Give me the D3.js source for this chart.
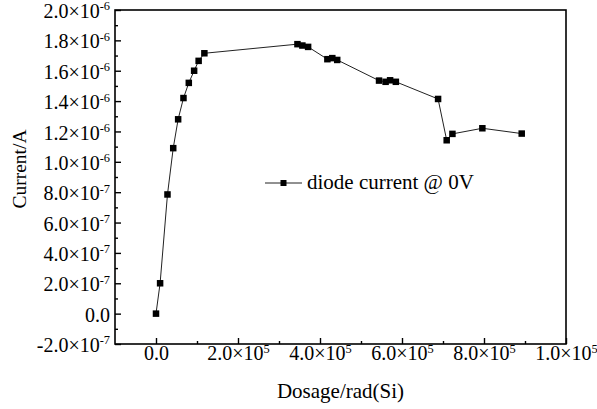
<!DOCTYPE html>
<html>
<head>
<meta charset="utf-8">
<script src="https://cdn.jsdelivr.net/npm/d3@7"></script>
<style>
    body { margin: 0; background: #fff; }
    svg { display: block; }
    svg text { font-family: "Liberation Serif", "Times New Roman", serif; }
</style>
</head>
<body>
<div id="container"></div>
<script>
// values
const dosage = [0, 1.0e4, 2.8e4, 4.2e4, 5.4e4, 6.7e4, 8.0e4, 9.3e4, 1.04e5, 1.18e5,
    3.45e5, 3.57e5, 3.71e5, 4.18e5, 4.30e5, 4.42e5,
    5.44e5, 5.60e5, 5.71e5, 5.85e5, 6.88e5, 7.09e5, 7.23e5, 7.96e5, 8.92e5]
const current = [0, 2.0e-7, 7.85e-7, 1.09e-6, 1.28e-6, 1.42e-6, 1.52e-6, 1.60e-6, 1.665e-6, 1.715e-6,
    1.775e-6, 1.766e-6, 1.757e-6, 1.676e-6, 1.683e-6, 1.671e-6,
    1.535e-6, 1.527e-6, 1.537e-6, 1.527e-6, 1.414e-6, 1.142e-6, 1.184e-6, 1.221e-6, 1.186e-6]

const seriesName = "diode current @ 0V"

const xTicks = [0, 2e5, 4e5, 6e5, 8e5, 1e6]
const xTickMantissa = ["0.0", "2.0", "4.0", "6.0", "8.0", "1.0"]
const xTickExponent = ["", "5", "5", "5", "5", "5"]
const xMinor = [1e5, 3e5, 5e5, 7e5, 9e5]

const yTicks = [-2e-7, 0, 2e-7, 4e-7, 6e-7, 8e-7, 1e-6, 1.2e-6, 1.4e-6, 1.6e-6, 1.8e-6, 2e-6]
const yTickMantissa = ["-2.0", "0.0", "2.0", "4.0", "6.0", "8.0", "1.0", "1.2", "1.4", "1.6", "1.8", "2.0"]
const yTickExponent = ["-7", "", "-7", "-7", "-7", "-7", "-6", "-6", "-6", "-6", "-6", "-6"]
const yMinor = [-1e-7, 1e-7, 3e-7, 5e-7, 7e-7, 9e-7, 1.1e-6, 1.3e-6, 1.5e-6, 1.7e-6, 1.9e-6]

const width = 597, height = 409
const plot = { left: 115, right: 566, top: 10, bottom: 344 }
const serif = '"Liberation Serif", "Times New Roman", serif'

const svg = d3.select('#container')
    .append('svg').attr('width', width).attr('height', height)

const x = d3.scaleLinear().domain([-1e5, 1e6]).range([plot.left, plot.right])
const y = d3.scaleLinear().domain([-2e-7, 2e-6]).range([plot.bottom, plot.top])

const sciLabel = (text, mant, exp) => {
    text.text(null)
    text.append('tspan').text(mant === "0.0" ? mant : mant + "\u00d710")
    if (exp)
        text.append('tspan').attr('font-size', '62%').attr('dy', '-0.62em').text(exp)
}

// x axis (ticks pointing inward)
const gx = svg.append('g').attr('transform', 'translate(0,' + plot.bottom + ')')
gx.call(d3.axisBottom(x).tickValues(xTicks).tickSizeInner(-6).tickSizeOuter(0).tickPadding(2).tickFormat(''))
gx.append('g').call(d3.axisBottom(x).tickValues(xMinor).tickSizeInner(-3).tickSizeOuter(0).tickFormat(''))
gx.attr('font-family', serif)
gx.selectAll('.domain').remove()
gx.selectAll('line').attr('stroke', '#000').attr('stroke-width', 1.4)
gx.selectAll('.tick text')
    .attr('font-family', serif).attr('font-size', 20).attr('fill', '#000')
    .each(function(d, i) {
        const k = xTicks.indexOf(d)
        if (k >= 0) sciLabel(d3.select(this), xTickMantissa[k], xTickExponent[k])
    })

// y axis
const gy = svg.append('g').attr('transform', 'translate(' + plot.left + ',0)')
gy.call(d3.axisLeft(y).tickValues(yTicks).tickSizeInner(-6).tickSizeOuter(0).tickPadding(5).tickFormat(''))
gy.append('g').call(d3.axisLeft(y).tickValues(yMinor).tickSizeInner(-3).tickSizeOuter(0).tickFormat(''))
gy.attr('font-family', serif)
gy.selectAll('.domain').remove()
gy.selectAll('line').attr('stroke', '#000').attr('stroke-width', 1.4)
gy.selectAll('.tick text')
    .attr('font-family', serif).attr('font-size', 20).attr('fill', '#000').attr('dy', '0.38em')
    .each(function(d) {
        const k = yTicks.indexOf(d)
        if (k >= 0) sciLabel(d3.select(this), yTickMantissa[k], yTickExponent[k])
    })

// frame
svg.append('rect')
    .attr('x', plot.left).attr('y', plot.top)
    .attr('width', plot.right - plot.left).attr('height', plot.bottom - plot.top)
    .attr('fill', 'none').attr('stroke', '#000').attr('stroke-width', 1.6)

// axis titles
svg.append('text')
    .attr('x', (plot.left + plot.right) / 2).attr('y', 398)
    .attr('text-anchor', 'middle').attr('font-size', 21)
    .text('Dosage/rad(Si)')
svg.append('text')
    .attr('transform', 'translate(25.5,169) rotate(-90)')
    .attr('text-anchor', 'middle').attr('font-size', 19.5)
    .text('Current/A')

// series
const points = dosage.map((d, i) => [d, current[i]])
const line = d3.line().x(d => x(d[0])).y(d => y(d[1]))

svg.append('path')
    .attr('d', line(points))
    .attr('fill', 'none').attr('stroke', '#222').attr('stroke-width', 1)

const ms = 6.5
svg.selectAll('.dot').data(points).enter().append('rect')
    .attr('class', 'dot')
    .attr('x', d => x(d[0]) - ms / 2).attr('y', d => y(d[1]) - ms / 2)
    .attr('width', ms).attr('height', ms)
    .attr('fill', '#000')

// legend
const lg = svg.append('g').attr('transform', 'translate(265,183)')
lg.append('line').attr('x1', 0).attr('x2', 37).attr('y1', 0).attr('y2', 0)
    .attr('stroke', '#222').attr('stroke-width', 1)
lg.append('rect').attr('x', 18.5 - 3).attr('y', -3).attr('width', 6).attr('height', 6).attr('fill', '#000')
lg.append('text').attr('x', 42).attr('y', 6).attr('font-size', 21).text(seriesName)
</script>
</body>
</html>
